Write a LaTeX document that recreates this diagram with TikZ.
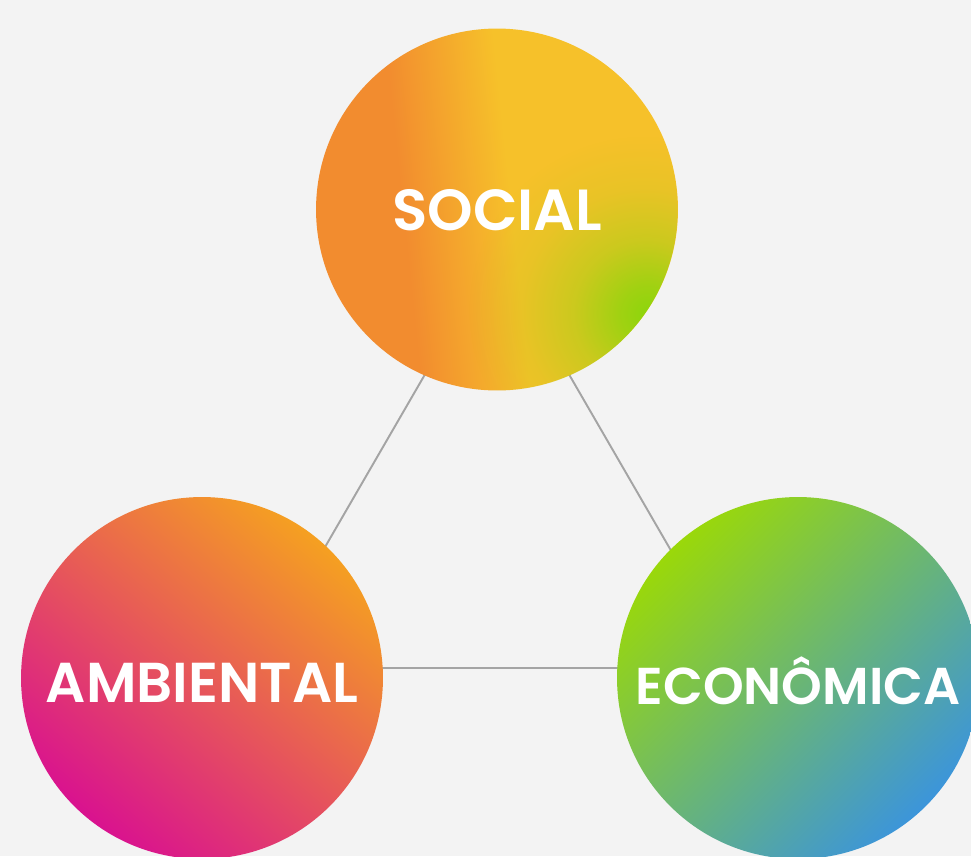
\documentclass[tikz,border=0pt]{standalone}
\usepackage{fontspec}
\setmainfont{Poppins}[BoldFont={* SemiBold}]
\usetikzlibrary{fadings}

\definecolor{bgGray}{HTML}{F3F3F3}
\definecolor{lineGray}{HTML}{A4A4A4}
\definecolor{sOrange}{HTML}{F28C2F}
\definecolor{sYellow}{HTML}{F6C12A}
\definecolor{sGreen}{HTML}{8CD60C}
\definecolor{aOrange}{HTML}{F5A021}
\definecolor{aMagenta}{HTML}{D9128F}
\definecolor{eGreen}{HTML}{9AD80A}
\definecolor{eBlue}{HTML}{3C95DA}

\pgfdeclarehorizontalshading{socialshade}{100bp}{color(0bp)=(sOrange); color(37bp)=(sOrange); color(52bp)=(sYellow); color(100bp)=(sYellow)}
\pgfdeclareradialshading{greenspot}{\pgfpoint{21bp}{-14.5bp}}{color(0bp)=(white); color(4bp)=(white!80!black); color(10bp)=(white!40!black); color(17bp)=(white!12!black); color(24bp)=(black); color(500bp)=(black)}
\pgfdeclarefading{greenfade}{\pgfuseshading{greenspot}}

\tikzset{
	pillar/.style={circle, minimum size=7.24cm, inner sep=0pt, text=white, text depth=0pt},
	lbl/.style={font=\fontsize{#1}{#1}\selectfont\bfseries},
	link/.style={draw=lineGray, line width=1.1pt},
}

\begin{document}
\begin{tikzpicture}[x=0.02cm,y=-0.02cm]
				
				\useasboundingbox (0,0) rectangle (971,856);
				\clip (0,0) rectangle (971,856);
				\fill[bgGray] (0,0) rectangle (971,856);
				
				\coordinate (triTop) at (497,250);
				\coordinate (triLeft) at (255,668);
				\coordinate (triRight) at (739,668);
				\draw[link] (triTop) -- (triLeft) -- (triRight) -- cycle;
				
				\node[pillar, lbl=33, text height=.82cm, shade, shading=socialshade, shading angle=6,
					postaction={fill=sGreen, path fading=greenfade}] (Social) at (497,209.5) {SOCIAL};
				
				\node[pillar, lbl=32, text height=.96cm, top color=aOrange, bottom color=aMagenta, shading angle=-40] (Ambiental) at (202,678) {AMBIENTAL};
				
				\node[pillar, lbl=29.5, text height=1.04cm, top color=eGreen, bottom color=eBlue, shading angle=45] (Economica) at (798,678) {ECONÔMICA};
				
\end{tikzpicture}
\end{document}
